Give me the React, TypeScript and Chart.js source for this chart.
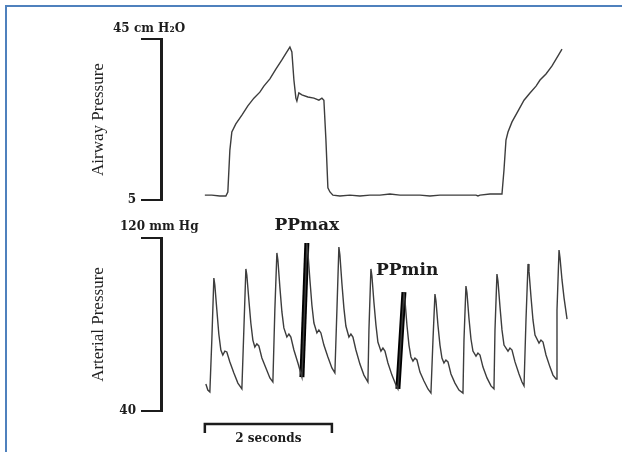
import React, { useEffect, useRef } from 'react';
import { Chart, registerables } from 'chart.js';

Chart.register(...registerables);

// ---------- data (time in seconds) ----------
const timeMin = -0.69;
const timeMax = 6.22;

const airwayTicks = [5, 45];
const airwayTickLabels = ['5', ''];
const airwayUnit = '45 cm H\u2082O';
const airwayTitle = 'Airway Pressure';

const airwayTimes = [
  0.0, 0.11, 0.236, 0.331, 0.362, 0.394, 0.425, 0.488, 0.583, 0.677, 0.772, 0.866, 0.929, 1.024, 1.118, 1.213,
  1.291, 1.339, 1.37, 1.402, 1.433, 1.449, 1.48, 1.528, 1.622, 1.717, 1.795, 1.843, 1.874, 1.906, 1.937, 1.969,
  2.016, 2.126, 2.283, 2.441, 2.598, 2.756, 2.913, 3.071, 3.228, 3.386, 3.543, 3.701, 3.858, 4.016, 4.173, 4.268,
  4.299, 4.331, 4.488, 4.677, 4.709, 4.74, 4.772, 4.835, 4.929, 5.024, 5.118, 5.213, 5.276, 5.37, 5.465, 5.559, 5.622,
];
const airwayValues = [
  6.2, 6.2, 6.0, 6.0, 7.0, 17.4, 21.9, 23.9, 26.1, 28.4, 30.3, 31.8, 33.3, 35.1, 37.5, 39.8,
  41.8, 43.0, 41.8, 34.8, 30.3, 29.6, 31.6, 31.1, 30.6, 30.3, 29.8, 30.3, 29.8, 19.9, 8.0, 7.0,
  6.2, 6.0, 6.2, 6.0, 6.2, 6.2, 6.5, 6.2, 6.2, 6.2, 6.0, 6.2, 6.2, 6.2, 6.2, 6.2,
  6.0, 6.2, 6.5, 6.5, 12.5, 19.9, 21.9, 24.4, 27.1, 29.8, 31.6, 33.3, 34.8, 36.3, 38.3, 40.8, 42.5,
];

const arterialTicks = [40, 120];
const arterialTickLabels = ['40', ''];
const arterialUnit = '120 mm Hg';
const arterialTitle = 'Arterial Pressure';

const arterialTimes = [
  0.016, 0.047, 0.079,
  0.11, 0.142, 0.157, 0.189, 0.22, 0.252, 0.283, 0.315, 0.346, 0.394, 0.457, 0.52, 0.583,
  0.614, 0.646, 0.661, 0.693, 0.724, 0.756, 0.787, 0.819, 0.85, 0.898, 0.961, 1.024, 1.071,
  1.102, 1.134, 1.15, 1.181, 1.213, 1.244, 1.291, 1.323, 1.354, 1.402, 1.465, 1.528,
  1.575, 1.606, 1.622, 1.654, 1.685, 1.717, 1.764, 1.795, 1.827, 1.874, 1.937, 2.0, 2.047,
  2.079, 2.11, 2.126, 2.157, 2.189, 2.22, 2.268, 2.299, 2.331, 2.378, 2.441, 2.504, 2.567,
  2.583, 2.614, 2.63, 2.661, 2.693, 2.724, 2.772, 2.803, 2.835, 2.882, 2.945, 3.008, 3.039,
  3.087, 3.134, 3.15, 3.181, 3.213, 3.244, 3.276, 3.307, 3.339, 3.386, 3.449, 3.512, 3.559,
  3.591, 3.622, 3.638, 3.669, 3.701, 3.732, 3.764, 3.795, 3.827, 3.874, 3.937, 4.0, 4.063,
  4.079, 4.11, 4.126, 4.157, 4.189, 4.22, 4.268, 4.299, 4.331, 4.378, 4.441, 4.504, 4.551,
  4.567, 4.598, 4.614, 4.646, 4.677, 4.709, 4.772, 4.803, 4.835, 4.882, 4.945, 4.992, 5.024,
  5.055, 5.087, 5.102, 5.134, 5.165, 5.197, 5.26, 5.291, 5.323, 5.37, 5.433, 5.48, 5.528,
  5.543, 5.575, 5.591, 5.622, 5.654, 5.685, 5.701,
];
const arterialValues = [
  52.5, 49.7, 48.8,
  72.8, 101.5, 98.3, 86.7, 75.6, 68.2, 65.9, 67.7, 67.3, 62.7, 57.6, 52.9, 50.2,
  77.5, 105.7, 102.9, 91.3, 80.7, 72.8, 69.6, 71.0, 70.1, 64.5, 59.9, 55.3, 53.4,
  86.7, 113.1, 109.8, 97.3, 85.8, 78.4, 74.2, 75.6, 74.2, 68.2, 62.2, 55.7,
  91.3, 117.7, 113.5, 100.6, 89.0, 80.7, 76.1, 77.5, 76.1, 70.5, 65.0, 59.9, 57.6,
  86.7, 115.8, 112.1, 99.2, 87.6, 79.3, 74.2, 75.6, 74.2, 68.2, 61.7, 56.6, 53.4,
  77.5, 105.7, 102.4, 90.4, 79.8, 71.9, 67.7, 69.1, 67.7, 62.2, 56.6, 52.0, 50.2,
  72.8, 95.0, 91.3, 79.8, 70.5, 65.0, 63.1, 64.5, 63.6, 58.0, 53.9, 50.2, 48.3,
  72.8, 94.1, 90.9, 79.8, 70.5, 64.5, 62.2, 63.6, 62.7, 57.1, 52.9, 49.7, 48.3,
  72.8, 97.8, 94.6, 83.0, 73.3, 67.7, 65.4, 66.8, 65.9, 60.3, 55.3, 51.6, 50.2,
  77.5, 103.3, 100.1, 88.1, 77.5, 70.5, 67.7, 69.1, 68.2, 62.7, 57.1, 53.4, 51.6,
  82.1, 108.0, 104.7, 92.7, 82.1, 75.1, 71.4, 72.8, 71.9, 65.9, 60.3, 56.6, 54.8,
  86.7, 114.4, 110.7, 100.6, 92.3, 85.8, 82.5,
];

const ppMaxTimes = [1.528, 1.606];
const ppMaxValues = [55.7, 117.7];
const ppMaxLabel = 'PPmax';
const ppMinTimes = [3.039, 3.134];
const ppMinValues = [50.2, 95.0];
const ppMinLabel = 'PPmin';

const scaleBarTimes = [0, 2];
const scaleBarLabel = '2 seconds';

// ---------- styles ----------
const INK = '#1c1c1c';
const TRACE = '#3d3d3d';
const TITLE_FONT = { family: '"Liberation Serif", serif', size: 17 };
const TICK_FONT = { family: '"DejaVu Serif", serif', size: 12, weight: 'bold' as const };
const SMALL_FONT = 'bold 12px "DejaVu Serif", serif';
const PP_FONT = 'bold 17px "DejaVu Serif", serif';

const zip = (xs: number[], ys: number[]) => xs.map((x, i) => ({ x, y: ys[i] }));

function bracketAxis(min: number, max: number, ticks: number[], labels: string[], title: string) {
  return {
    min,
    max,
    afterBuildTicks: (axis: any) => {
      axis.ticks = ticks.map((v) => ({ value: v }));
    },
    afterFit: (scale: any) => {
      scale.width = 73;
    },
    ticks: {
      callback: (v: any) => {
        const i = ticks.indexOf(Number(v));
        return i >= 0 ? labels[i] : '';
      },
      font: TICK_FONT,
      color: INK,
      padding: 5,
    },
    grid: { drawOnChartArea: false, drawTicks: true, tickLength: 20, color: INK, lineWidth: 2 },
    border: { display: true, color: INK, width: 3 },
    title: { display: true, text: title, font: TITLE_FONT, color: '#222', padding: 0 },
  };
}

const baseOptions = (padding: any, yAxis: any) => ({
  responsive: false,
  animation: false as const,
  events: [] as any[],
  layout: { padding },
  plugins: { legend: { display: false }, tooltip: { enabled: false }, title: { display: false } },
  scales: {
    x: { type: 'linear' as const, min: timeMin, max: timeMax, display: false },
    y: yAxis,
  },
});

const topLabels = {
  id: 'topLabels',
  afterDraw(chart: any) {
    const { ctx } = chart;
    const y = chart.scales.y;
    ctx.save();
    ctx.font = SMALL_FONT;
    ctx.fillStyle = INK;
    ctx.textBaseline = 'middle';
    ctx.textAlign = 'left';
    ctx.fillText(airwayUnit, chart.chartArea.left - 48, y.getPixelForValue(airwayTicks[1]) - 10);
    ctx.restore();
  },
};

const bottomLabels = {
  id: 'bottomLabels',
  afterDraw(chart: any) {
    const { ctx, chartArea } = chart;
    const xs = chart.scales.x;
    const ys = chart.scales.y;
    ctx.save();
    ctx.fillStyle = INK;
    ctx.strokeStyle = INK;
    ctx.textBaseline = 'middle';

    ctx.font = SMALL_FONT;
    ctx.textAlign = 'left';
    ctx.fillText(arterialUnit, chartArea.left - 41, ys.getPixelForValue(arterialTicks[1]) - 11);

    ctx.font = PP_FONT;
    ctx.textAlign = 'center';
    ctx.fillText(ppMaxLabel, xs.getPixelForValue(ppMaxTimes[1]), ys.getPixelForValue(ppMaxValues[1]) - 17);
    ctx.textAlign = 'left';
    ctx.fillText(ppMinLabel, xs.getPixelForValue(ppMinTimes[1]) - 28, ys.getPixelForValue(ppMinValues[1]) - 21);

    const x0 = xs.getPixelForValue(scaleBarTimes[0]);
    const x1 = xs.getPixelForValue(scaleBarTimes[1]);
    const by = chartArea.bottom + 13;
    ctx.lineWidth = 2.5;
    ctx.beginPath();
    ctx.moveTo(x0, by + 9);
    ctx.lineTo(x0, by);
    ctx.lineTo(x1, by);
    ctx.lineTo(x1, by + 9);
    ctx.stroke();
    ctx.font = SMALL_FONT;
    ctx.textAlign = 'center';
    ctx.fillText(scaleBarLabel, (x0 + x1) / 2, by + 15);
    ctx.restore();
  },
};

export default function App() {
  const topRef = useRef<HTMLCanvasElement>(null);
  const botRef = useRef<HTMLCanvasElement>(null);

  useEffect(() => {
    const top = new Chart(topRef.current as HTMLCanvasElement, {
      type: 'line',
      data: {
        datasets: [
          {
            data: zip(airwayTimes, airwayValues),
            borderColor: TRACE,
            borderWidth: 1.4,
            pointRadius: 0,
            tension: 0,
            fill: false,
          },
        ],
      },
      options: baseOptions(
        { left: 88, right: 22, top: 39, bottom: 15 },
        bracketAxis(airwayTicks[0], airwayTicks[1], airwayTicks, airwayTickLabels, airwayTitle)
      ) as any,
      plugins: [topLabels],
    });

    const bot = new Chart(botRef.current as HTMLCanvasElement, {
      type: 'line',
      data: {
        datasets: [
          {
            data: zip(arterialTimes, arterialValues),
            borderColor: TRACE,
            borderWidth: 1.4,
            pointRadius: 0,
            tension: 0,
            fill: false,
          },
          {
            data: zip(ppMaxTimes, ppMaxValues),
            borderColor: '#000',
            borderWidth: 5,
            pointRadius: 0,
            tension: 0,
            fill: false,
          },
          {
            data: zip(ppMinTimes, ppMinValues),
            borderColor: '#000',
            borderWidth: 5,
            pointRadius: 0,
            tension: 0,
            fill: false,
          },
        ],
      },
      options: baseOptions(
        { left: 88, right: 22, top: 23, bottom: 41 },
        bracketAxis(arterialTicks[0], arterialTicks[1], arterialTicks, arterialTickLabels, arterialTitle)
      ) as any,
      plugins: [bottomLabels],
    });

    return () => {
      top.destroy();
      bot.destroy();
    };
  }, []);

  return (
    <div
      style={{
        position: 'absolute',
        left: 0,
        top: 0,
        width: 622,
        height: 452,
        background: '#ffffff',
        overflow: 'hidden',
      }}
    >
      <div
        style={{
          position: 'absolute',
          left: 5,
          top: 5,
          width: 630,
          height: 460,
          borderTop: '2px solid #4f81bd',
          borderLeft: '2px solid #4f81bd',
        }}
      />
      <canvas ref={topRef} width={622} height={215} style={{ position: 'absolute', left: 0, top: 0 }} />
      <canvas ref={botRef} width={622} height={237} style={{ position: 'absolute', left: 0, top: 215 }} />
    </div>
  );
}
